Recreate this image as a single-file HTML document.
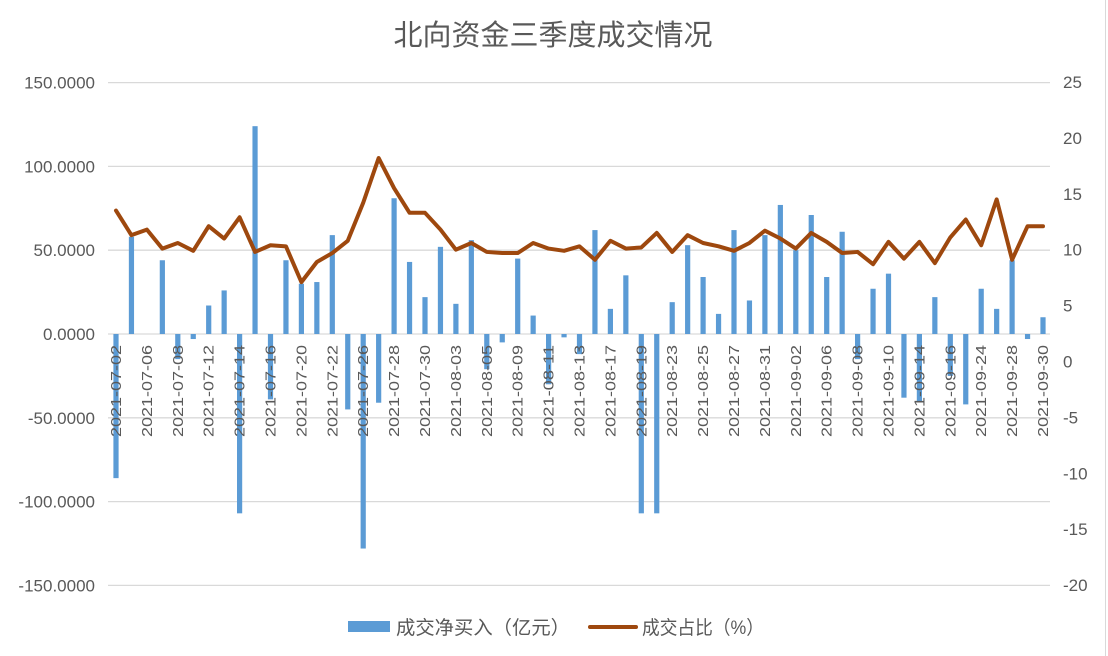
<!DOCTYPE html>
<html><head><meta charset="utf-8"><style>
html,body{margin:0;padding:0;background:#fff;}
svg{display:block;font-family:"Liberation Sans","Noto Sans CJK SC",sans-serif;}
</style></head><body>
<svg id="c" width="1108" height="656" viewBox="0 0 1108 656" xmlns="http://www.w3.org/2000/svg">
<rect width="1108" height="656" fill="#fff"/>
<line x1="1105.5" y1="0" x2="1105.5" y2="656" stroke="#d9d9d9"/>
<text x="553" y="45" text-anchor="middle" font-size="29" fill="#595959">北向资金三季度成交情况</text>
<g id="grid"></g><g id="bars"></g><g id="line"></g><g id="lbl"></g>
<rect x="348" y="621" width="42" height="11" fill="#5b9bd5"/>
<text x="396" y="634" font-size="19" fill="#595959" textLength="174" lengthAdjust="spacingAndGlyphs">成交净买入（亿元）</text>
<line x1="590" y1="627" x2="636" y2="627" stroke="#9e480e" stroke-width="4" stroke-linecap="round"/>
<text x="642" y="634" font-size="19" fill="#595959" textLength="122" lengthAdjust="spacingAndGlyphs">成交占比（%）</text>
</svg>
<script>
var ns="http://www.w3.org/2000/svg";
function el(p,t,a,txt){var e=document.createElementNS(ns,t);for(var k in a)e.setAttribute(k,a[k]);if(txt!=null)e.textContent=txt;document.getElementById(p).appendChild(e);return e;}
var bars=[-86,58,0,44,-15,-3,17,26,-107,124,-39,44,30,31,59,-45,-128,-41,81,43,22,52,18,56,-21,-5,45,11,-30,-2,-12,62,15,35,-107,-107,19,53,34,12,62,20,59,77,50,71,34,61,-15,27,36,-38,-40,22,-25,-42,27,15,44,-3,10];
var pct=[13.5,11.3,11.8,10.1,10.6,9.9,12.1,11.0,12.9,9.8,10.4,10.3,7.1,8.9,9.7,10.8,14.2,18.2,15.5,13.3,13.3,11.8,10.0,10.6,9.8,9.7,9.7,10.6,10.1,9.9,10.3,9.1,10.8,10.1,10.2,11.5,9.8,11.3,10.6,10.3,9.9,10.6,11.7,11.0,10.1,11.5,10.7,9.7,9.8,8.7,10.7,9.2,10.7,8.8,11.1,12.7,10.4,14.5,9.1,12.1,12.1];
var dates=["07-02","07-06","07-08","07-12","07-14","07-16","07-20","07-22","07-26","07-28","07-30","08-03","08-05","08-09","08-11","08-13","08-17","08-19","08-23","08-25","08-27","08-31","09-02","09-06","09-08","09-10","09-14","09-16","09-24","09-28","09-30"];
function yl(v){return 334-v*1.676;}
function yr(v){return 361.5-v*11.18;}
function xc(i){return 116+i*15.45;}
for(var v=150;v>=-150;v-=50){var y=yl(v);
 el("grid","line",{x1:108,x2:1050,y1:y,y2:y,stroke:"#d9d9d9","stroke-width":1.3});
 el("grid","text",{x:95,y:y+6,"text-anchor":"end","font-size":17,fill:"#595959"},v.toFixed(4));}
for(var r=25;r>=-20;r-=5){el("grid","text",{x:1063,y:yr(r)+6,"font-size":17,fill:"#595959"},r);}
bars.forEach(function(b,i){var y0=yl(0),y1=yl(b);el("bars","rect",{x:xc(i)-2.6,y:Math.min(y0,y1),width:5.2,height:Math.abs(y1-y0),fill:"#5b9bd5"});});
el("line","polyline",{points:pct.map(function(p,i){return xc(i)+","+yr(p)}).join(" "),fill:"none",stroke:"#9e480e","stroke-width":4,"stroke-linejoin":"round","stroke-linecap":"round"});
dates.forEach(function(d,j){var x=xc(j*2)+5;el("lbl","text",{x:0,y:0,transform:"translate("+x+",345) rotate(-90)","text-anchor":"end","font-size":15,fill:"#595959",textLength:92,lengthAdjust:"spacingAndGlyphs"},"2021-"+d);});
</script>
</body></html>
